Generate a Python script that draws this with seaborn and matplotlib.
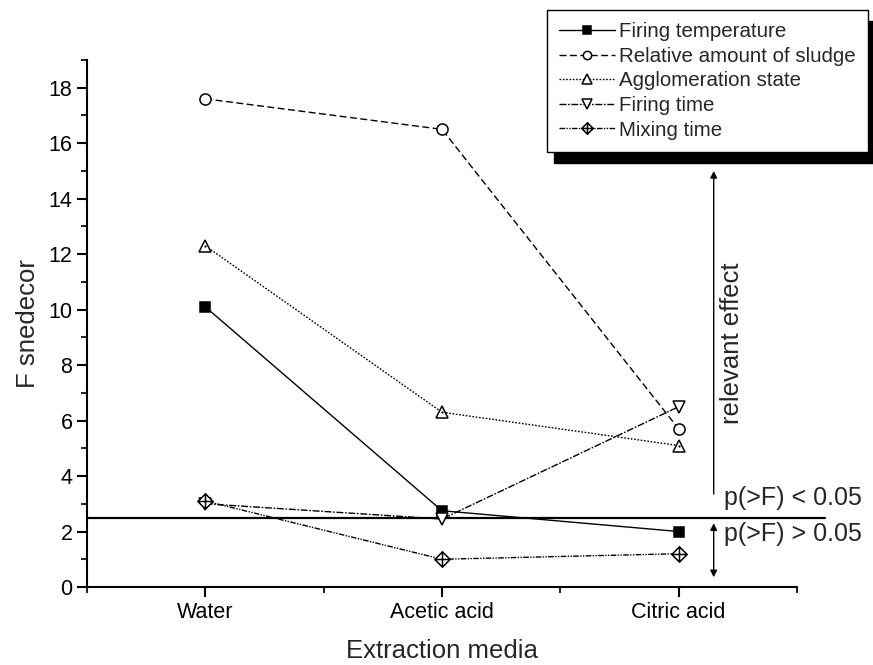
import matplotlib
matplotlib.use("Agg")
import matplotlib.pyplot as plt
from matplotlib.path import Path
from matplotlib.ticker import MultipleLocator, FixedLocator
import seaborn as sns
import pandas as pd

# ---- data ----
media = ["Water", "Acetic acid", "Citric acid"]
firing_temperature = [10.1, 2.75, 2.0]
sludge_amount = [17.6, 16.5, 5.7]
agglomeration_state = [12.3, 6.3, 5.1]
firing_time = [3.0, 2.45, 6.5]
mixing_time = [3.1, 1.0, 1.2]
threshold = 2.47

series_names = ["Firing temperature", "Relative amount of sludge",
                "Agglomeration state", "Firing time", "Mixing time"]
series_values = [firing_temperature, sludge_amount, agglomeration_state,
                 firing_time, mixing_time]

sns.set_theme(style="ticks")
plt.rcParams['font.family'] = ['Liberation Sans', 'DejaVu Sans']

# diamond with cross marker (Origin style)
diamond_cross = Path(
    [(0, 1), (1, 0), (0, -1), (-1, 0), (0, 1),
     (0, 1), (0, -1), (-1, 0), (1, 0)],
    [Path.MOVETO, Path.LINETO, Path.LINETO, Path.LINETO, Path.CLOSEPOLY,
     Path.MOVETO, Path.LINETO, Path.MOVETO, Path.LINETO])

styles = [
    dict(marker="s", ms=7.5, mfc="black", ls="-"),
    dict(marker="o", ms=8, mfc="white", ls=(0, (5, 2.5))),
    dict(marker="^", ms=9, mfc="white", ls=(0, (1.2, 1.2))),
    dict(marker="v", ms=9, mfc="white", ls=(0, (5, 1.2, 1.2, 1.2))),
    dict(marker=diamond_cross, ms=11, mfc="white", ls=(0, (4, 1, 1, 1, 1, 1))),
]

fig = plt.figure(figsize=(8.73, 6.65), dpi=100)
ax = fig.add_axes([87/873, 1-587/665, (797-87)/873, (587-60)/665])

for name, vals, st in zip(series_names, series_values, styles):
    df = pd.DataFrame({"media": media, "F": vals})
    sns.lineplot(data=df, x="media", y="F", ax=ax, color="black",
                 linewidth=1.0, linestyle=st["ls"], marker=st["marker"],
                 markersize=st["ms"], markerfacecolor=st["mfc"],
                 markeredgecolor="black", markeredgewidth=1.1,
                 label=name, sort=False, zorder=3)

# dots inside the triangles
df_a = pd.DataFrame({"media": media, "F": agglomeration_state})
sns.lineplot(data=df_a, x="media", y="F", ax=ax, color="black", linewidth=0,
             marker="o", markersize=1.6, markeredgewidth=0,
             label="_nolegend_", sort=False, zorder=4)

# significance threshold line
ax.plot([-0.5, 2.62], [threshold, threshold], color="black", lw=1.6,
        clip_on=False, zorder=2)

# arrows
ax.annotate("", xy=(2.148, 15.0), xytext=(2.148, 3.35),
            arrowprops=dict(arrowstyle="-|>", color="black", lw=1.0,
                            mutation_scale=10, shrinkA=0, shrinkB=0))
ax.annotate("", xy=(2.148, 0.35), xytext=(2.148, 2.3),
            arrowprops=dict(arrowstyle="<|-|>", color="black", lw=1.0,
                            mutation_scale=10, shrinkA=0, shrinkB=0))

ax.text(2.225, 8.8, "relevant effect", rotation=90, ha="center", va="center",
        fontsize=18.5, clip_on=False)
ax.text(2.19, 3.2, "p(>F) < 0.05", ha="left", va="center", fontsize=18,
        clip_on=False)
ax.text(2.19, 1.92, "p(>F) > 0.05", ha="left", va="center", fontsize=18,
        clip_on=False)

ax.set_xlim(-0.5, 2.5)
ax.set_ylim(0, 19)
ax.yaxis.set_major_locator(MultipleLocator(2))
ax.yaxis.set_minor_locator(MultipleLocator(1))
ax.xaxis.set_minor_locator(FixedLocator([-0.5, 0.5, 1.5, 2.5]))

for side in ["top", "right"]:
    ax.spines[side].set_visible(False)
for side in ["left", "bottom"]:
    ax.spines[side].set_linewidth(1.5)
    ax.spines[side].set_color("black")

ax.tick_params(axis="both", which="major", length=7, width=1.5,
               direction="out", labelsize=15.5, colors="black")
ax.tick_params(axis="both", which="minor", length=4, width=1.5,
               direction="out")

ax.set_xlabel("Extraction media", fontsize=18.5, labelpad=12)
ax.set_ylabel("F snedecor", fontsize=18.5, labelpad=6)

leg = ax.legend(loc="upper right", bbox_to_anchor=(868/873, 1-10/665),
                bbox_transform=fig.transFigure, fontsize=14.8,
                frameon=True, fancybox=False, edgecolor="black",
                framealpha=1, handlelength=2.7, handletextpad=0.2,
                labelspacing=0.27, borderpad=0.6, borderaxespad=0,
                markerscale=0.75,
                shadow={"ox": 5, "oy": -8, "color": "black", "alpha": 1})
leg.get_frame().set_linewidth(1.0)

fig.savefig("out.png", dpi=100)
